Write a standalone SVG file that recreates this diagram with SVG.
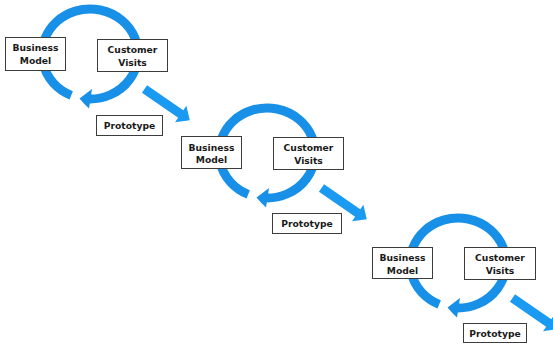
<svg xmlns="http://www.w3.org/2000/svg" width="553" height="344" viewBox="0 0 553 344">
  <style>
    .box { fill: #ffffff; stroke: #3c3c3c; stroke-width: 1; }
    .label { font-family: "DejaVu Sans", "Liberation Sans", sans-serif; font-weight: bold; font-size: 9.2px; fill: #1a1a1a; text-anchor: middle; }
    .ring { fill: none; stroke: #1890e8; stroke-width: 9; }
    .ring-head { fill: #1890e8; }
    .flow { fill: #1a9af0; }
  </style>
  <defs>
    <!-- circular iteration arrow, centre (90,54) -->
    <g id="cycle-ring">
      <path class="ring" d="M71.2,95.4 A48,45 0 1 1 89,99"/>
      <path class="ring-head" d="M92,89 L89,108.5 Q84,104 79.5,98.5 Z"/>
    </g>
    <!-- straight arrow leading to the next cycle -->
    <g id="step-arrow">
      <polygon class="flow" points="0,-4.5 44,-4.5 44,-10 55,0 44,10 44,4.5 0,4.5" transform="translate(144.5,89) rotate(34.6)"/>
    </g>
  </defs>

  <g id="connectors">
    <use href="#cycle-ring"/>
    <use href="#step-arrow"/>
    <use href="#cycle-ring" transform="translate(177,99)"/>
    <use href="#step-arrow" transform="translate(177,99)"/>
    <use href="#cycle-ring" transform="translate(368,209)"/>
    <use href="#step-arrow" transform="translate(368,209)"/>
  </g>

  <!-- cycle 1 -->
  <g id="business-model-1">
    <rect class="box" x="5.5" y="37.5" width="60" height="33"/>
    <text class="label" x="35.5" y="51">Business</text>
    <text class="label" x="35.5" y="63.5">Model</text>
  </g>
  <g id="customer-visits-1">
    <rect class="box" x="97.5" y="39.5" width="70" height="32"/>
    <text class="label" x="132.5" y="53">Customer</text>
    <text class="label" x="132.5" y="65.5">Visits</text>
  </g>
  <g id="prototype-1">
    <rect class="box" x="96.5" y="115.5" width="66" height="20"/>
    <text class="label" x="129.5" y="129">Prototype</text>
  </g>

  <!-- cycle 2 -->
  <g id="business-model-2">
    <rect class="box" x="181.5" y="136.5" width="60" height="32"/>
    <text class="label" x="211.5" y="150.5">Business</text>
    <text class="label" x="211.5" y="163">Model</text>
  </g>
  <g id="customer-visits-2">
    <rect class="box" x="273.5" y="137.5" width="70" height="32"/>
    <text class="label" x="308.5" y="151">Customer</text>
    <text class="label" x="308.5" y="163.5">Visits</text>
  </g>
  <g id="prototype-2">
    <rect class="box" x="272.5" y="213.5" width="69" height="20"/>
    <text class="label" x="307" y="227">Prototype</text>
  </g>

  <!-- cycle 3 -->
  <g id="business-model-3">
    <rect class="box" x="372.5" y="247.5" width="60" height="31"/>
    <text class="label" x="402.5" y="261">Business</text>
    <text class="label" x="402.5" y="273.5">Model</text>
  </g>
  <g id="customer-visits-3">
    <rect class="box" x="464.5" y="247.5" width="71" height="32"/>
    <text class="label" x="500" y="261">Customer</text>
    <text class="label" x="500" y="273.5">Visits</text>
  </g>
  <g id="prototype-3">
    <rect class="box" x="463.5" y="323.5" width="63" height="19"/>
    <text class="label" x="495" y="337">Prototype</text>
  </g>
</svg>
